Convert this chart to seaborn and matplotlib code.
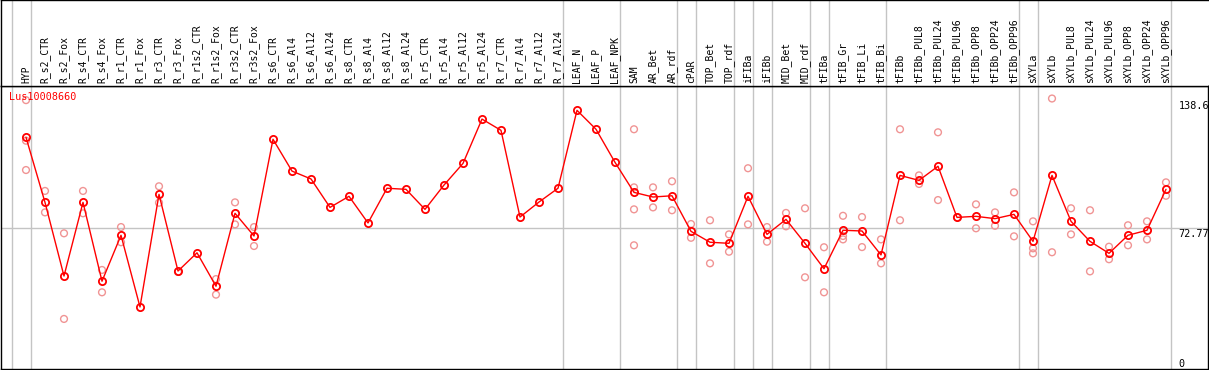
import numpy as np
import pandas as pd
import matplotlib
matplotlib.use("Agg")
import matplotlib.pyplot as plt
import matplotlib.transforms as mtransforms
import seaborn as sns

title = "Lus10008660"
categories = [
    "HYP", "R_s2_CTR", "R_s2_Fox", "R_s4_CTR", "R_s4_Fox", "R_r1_CTR", "R_r1_Fox",
    "R_r3_CTR", "R_r3_Fox", "R_r1s2_CTR", "R_r1s2_Fox", "R_r3s2_CTR", "R_r3s2_Fox",
    "R_s6_CTR", "R_s6_Al4", "R_s6_Al12", "R_s6_Al24", "R_s8_CTR", "R_s8_Al4",
    "R_s8_Al12", "R_s8_Al24", "R_r5_CTR", "R_r5_Al4", "R_r5_Al12", "R_r5_Al24",
    "R_r7_CTR", "R_r7_Al4", "R_r7_Al12", "R_r7_Al24", "LEAF_N", "LEAF_P", "LEAF_NPK",
    "SAM", "AR_Bet", "AR_rdf", "cPAR", "TOP_Bet", "TOP_rdf", "iFIBa", "iFIBb",
    "MID_Bet", "MID_rdf", "tFIBa", "tFIB_Gr", "tFIB_Li", "tFIB_Bi", "tFIBb",
    "tFIBb_PUL8", "tFIBb_PUL24", "tFIBb_PUL96", "tFIBb_OPP8", "tFIBb_OPP24",
    "tFIBb_OPP96", "sXYLa", "sXYLb", "sXYLb_PUL8", "sXYLb_PUL24", "sXYLb_PUL96",
    "sXYLb_OPP8", "sXYLb_OPP24", "sXYLb_OPP96",
]
group_sizes = [1, 28, 3, 3, 1, 2, 1, 1, 2, 1, 3, 7, 1, 7]

means = [
    123.5, 87.1, 45.9, 87.1, 43.0, 68.7, 28.6, 91.6, 48.7, 58.9, 40.2, 81.0, 68.3,
    122.4, 104.6, 100.2, 84.3, 90.5, 75.6, 95.0, 94.4, 83.2, 96.8, 108.9, 133.7,
    127.4, 78.9, 87.3, 95.0, 138.6, 128.0, 109.5, 92.7, 90.1, 90.8, 70.9, 64.8,
    64.2, 90.5, 69.2, 77.6, 64.2, 50.0, 71.5, 71.1, 57.7, 102.2, 99.4, 107.3, 78.7,
    79.3, 78.0, 80.4, 65.3, 102.2, 76.5, 65.3, 58.6, 68.7, 71.5, 94.4,
]

replicates = [
    [144.3, 121.6, 105.2], [93.5, 81.5], [69.8, 21.9], [93.5, 81.0], [49.3, 36.8],
    [73.3, 64.8], [], [96.1, 86.9], [48.2], [], [44.2, 35.5], [87.1, 74.8],
    [73.3, 62.7],
    [], [], [], [], [], [], [], [], [], [], [], [], [], [], [], [], [], [], [],
    [128.0, 95.5, 83.2, 63.1], [95.5, 84.3], [98.9, 82.7], [75.0, 67.3],
    [77.1, 53.0], [69.2, 59.5], [106.2, 74.8], [73.3, 65.1], [81.2, 73.7],
    [83.8, 45.2], [62.0, 36.8], [79.6, 68.3, 66.4], [78.9, 62.1], [66.4, 53.0],
    [128.0, 77.1], [102.2, 97.4], [126.3, 88.4], [78.7], [86.0, 72.6],
    [81.5, 74.0], [92.7, 68.1], [76.5, 61.4, 58.6], [145.2, 59.2], [83.8, 69.2],
    [82.7, 48.5], [62.3, 55.3], [74.3, 63.1], [76.5, 66.4], [98.3, 90.8],
]

y_labels = ["138.6", "72.77", "0"]
y_label_values = [138.6, 72.77, 0.0]

# ---------------------------------------------------------------
RED = "#ff0000"
PINK = "#f09494"
GREY = "#c4c4c4"
FONT = "DejaVu Sans Mono"

sns.set_theme(style="white")
plt.rcParams["font.family"] = [FONT, "DejaVu Sans"]

W, H = 1209, 370
fig = plt.figure(figsize=(W / 100, H / 100), dpi=100)

hdr_px = 86
left_px, right_px, bottom_px = 1, 1208, 369
ax = fig.add_axes([left_px / W, (H - bottom_px) / H,
                   (right_px - left_px) / W, (bottom_px - hdr_px) / H])
axh = fig.add_axes([left_px / W, (H - hdr_px) / H,
                    (right_px - left_px) / W, hdr_px / H], sharex=ax)

n = len(categories)
pos = np.arange(n)

# separators between groups
bounds = np.concatenate([[0], np.cumsum(group_sizes)]) - 0.75
for b in bounds:
    ax.axvline(b, color=GREY, lw=1.0, zorder=0)
    axh.axvline(b, color=GREY, lw=1.0, zorder=0)
ax.axhline(y_label_values[1], color=GREY, lw=1.0, zorder=0)

# replicates
rep_df = pd.DataFrame(
    [(i, v) for i, vals in enumerate(replicates) for v in vals],
    columns=["pos", "value"],
)
sns.scatterplot(data=rep_df, x="pos", y="value", ax=ax, marker="o", s=24,
                facecolor="none", edgecolor=PINK, linewidth=1.0, zorder=2,
                legend=False)

# means
mean_df = pd.DataFrame({"pos": pos, "value": means})
sns.lineplot(data=mean_df, x="pos", y="value", ax=ax, color=RED, lw=1.0,
             marker="o", markersize=5.2, markerfacecolor="none",
             markeredgecolor=RED, markeredgewidth=1.3, zorder=3, legend=False)

ax.set_xlim((left_px - 26) / 19, (right_px - 26) / 19)
ax.set_ylim(-6.1, 152.2)
ax.set_xlabel("")
ax.set_ylabel("")
ax.set_xticks([])
ax.set_yticks([])
for s in ax.spines.values():
    s.set_color("black")
    s.set_linewidth(1.0)

# y labels (left aligned near the right edge)
trans = mtransforms.blended_transform_factory(ax.transAxes, ax.transData)
offsets = [3, -4, -4]
for lab, val, off in zip(y_labels, y_label_values, offsets):
    ax.annotate(lab, xy=(0.9755, val), xycoords=trans,
                xytext=(0, off), textcoords="offset points",
                ha="left", va="center", fontsize=7.3, color="black",
                annotation_clip=False)

# title
ax.text(0.0069, 0.962, title, transform=ax.transAxes, color=RED,
        fontsize=7.3, ha="left", va="center")

# header
axh.set_ylim(0, 1)
axh.set_yticks([])
axh.tick_params(axis="x", bottom=False, labelbottom=False)
for i, c in enumerate(categories):
    axh.text(i, 0.03, c, rotation=90, ha="center", va="bottom",
             fontsize=7.0, color="black")
for k, s in axh.spines.items():
    s.set_color("black")
    s.set_linewidth(1.0)
axh.spines["right"].set_visible(False)

fig.savefig("out.png", dpi=100)
